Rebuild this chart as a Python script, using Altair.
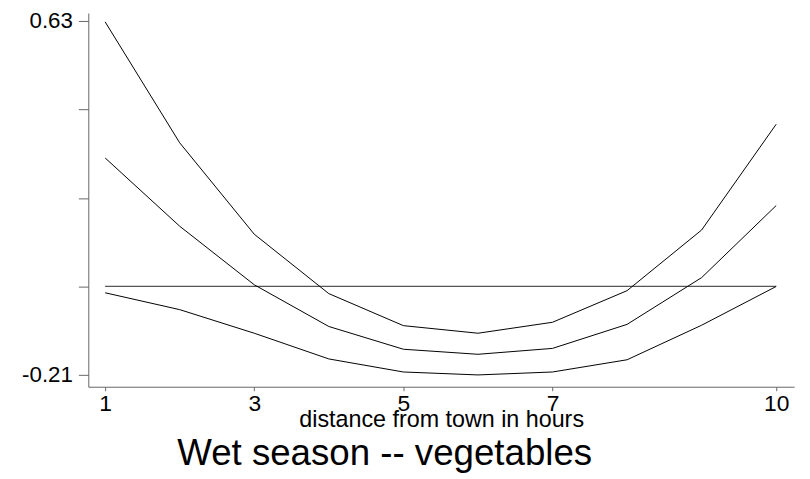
import altair as alt
import pandas as pd

hours = [1, 2, 3, 4, 5, 6, 7, 8, 9, 10]
upper = [0.628, 0.341, 0.124, -0.017, -0.093, -0.111, -0.085, -0.010, 0.134, 0.385]
middle = [0.305, 0.143, 0.004, -0.095, -0.149, -0.161, -0.147, -0.090, 0.021, 0.192]
lower = [-0.015, -0.055, -0.111, -0.172, -0.203, -0.210, -0.203, -0.174, -0.092, 0.0]
zero_start, zero_end = 1, 10
y_ticks = [-0.21, 0, 0.21, 0.42, 0.63]
x_ticks = [1, 3, 5, 7, 10]

rows = []
for name, vals in [("upper", upper), ("middle", middle), ("lower", lower)]:
    for h, v in zip(hours, vals):
        rows.append({"hours": h, "value": v, "series": name})
df = pd.DataFrame(rows)

FONT = "Liberation Sans"
xscale = alt.Scale(domain=[0.774, 10.24], nice=False, zero=False)
yscale = alt.Scale(domain=[-0.238, 0.649], nice=False, zero=False)

lines = alt.Chart(df).mark_line(color="black", strokeWidth=1).encode(
    x=alt.X("hours:Q", scale=xscale,
            axis=alt.Axis(values=x_ticks, title="distance from town in hours",
                          format="d",
                          grid=False, domainColor="#666", tickColor="#666",
                          tickSize=4, labelPadding=2, labelFontSize=23,
                          labelFont=FONT, labelColor="black",
                          titleFont=FONT, titleFontSize=23.5, titleFontWeight="normal",
                          titleColor="black", titleBaseline="alphabetic", titleY=40,
                          labelFlush=False, labelOverlap=False)),
    y=alt.Y("value:Q", scale=yscale,
            axis=alt.Axis(values=y_ticks, title=None, grid=False,
                          domainColor="#666", tickColor="#666", tickSize=10,
                          labelPadding=6, labelFontSize=22.5, labelFont=FONT,
                          labelColor="black",
                          labelExpr="datum.value == 0.63 ? '0.63' : (datum.value == -0.21 ? '-0.21' : '')")),
    detail="series:N",
)

zero_df = pd.DataFrame({"x": [zero_start], "x2": [zero_end], "y": [0]})
zero = alt.Chart(zero_df).mark_rule(color="#555", strokeWidth=1.3).encode(
    x=alt.X("x:Q", scale=xscale),
    x2="x2:Q",
    y=alt.Y("y:Q", scale=yscale),
)

chart = alt.layer(zero, lines).properties(
    width=712, height=377,
    autosize=alt.AutoSizeParams(type="none"),
    padding={"left": 81, "top": 3, "right": 8, "bottom": 90},
    title=alt.TitleParams("Wet season -- vegetables", orient="bottom", anchor="middle",
                          dx=-57, offset=5, font=FONT, fontSize=37,
                          fontWeight="normal", color="black"),
).configure_view(stroke=None).configure_axis(domainWidth=1, tickWidth=1)

chart.save("out.html", embed_options={"renderer": "svg", "actions": False})
